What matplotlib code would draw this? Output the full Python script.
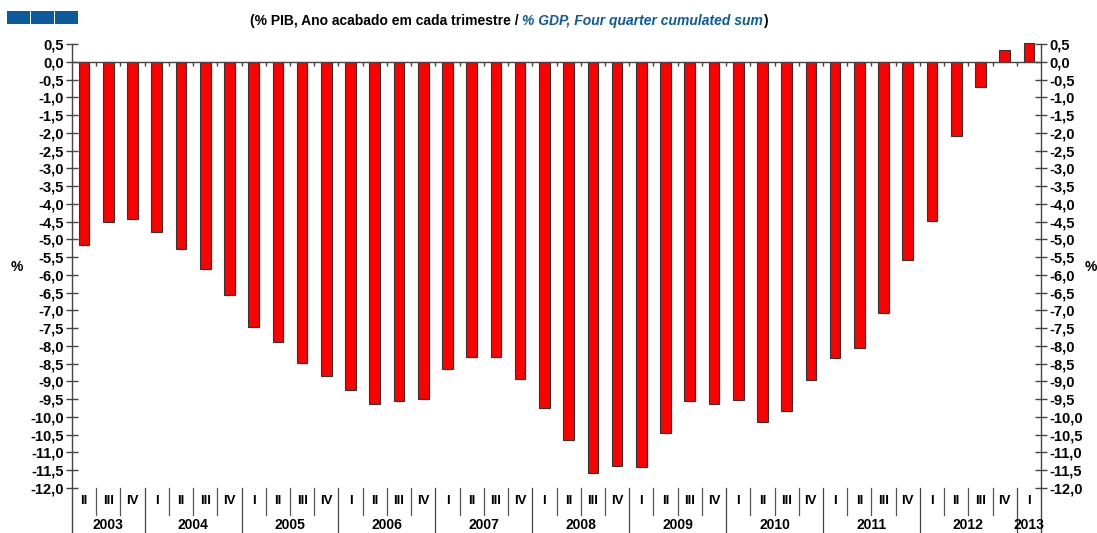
import matplotlib
matplotlib.use("Agg")
import matplotlib.pyplot as plt
from matplotlib.patches import Rectangle
from matplotlib.ticker import FixedLocator, FuncFormatter

plt.rcParams['font.family'] = ['Liberation Sans', 'DejaVu Sans']

# ---- data ----
years = ["2003", "2004", "2005", "2006", "2007", "2008", "2009", "2010", "2011", "2012", "2013"]
quarters_per_year = [["II", "III", "IV"]] + [["I", "II", "III", "IV"]] * 9 + [["I"]]
values = [-5.15, -4.52, -4.42,
          -4.80, -5.27, -5.83, -6.57,
          -7.47, -7.89, -8.48, -8.84,
          -9.23, -9.63, -9.55, -9.49,
          -8.65, -8.31, -8.31, -8.94,
          -9.74, -10.64, -11.59, -11.37,
          -11.40, -10.44, -9.55, -9.63,
          -9.53, -10.14, -9.83, -8.96,
          -8.35, -8.06, -7.07, -5.58,
          -4.48, -2.10, -0.72, 0.33,
          0.52]
y_ticks = [0.5 - 0.5 * i for i in range(26)]

title_pt = "(% PIB, Ano acabado em cada trimestre / "
title_en = "% GDP, Four quarter cumulated sum"

BLUE = "#0a5a9c"

fig = plt.figure(figsize=(10.97, 5.33), dpi=100)
ax = fig.add_axes([72 / 1097, 1 - 488 / 533, (1041 - 72) / 1097, (488 - 44) / 533])

n = len(values)
xs = list(range(n))
ax.bar(xs, values, width=0.44, color="#ff0000", edgecolor="#333333", linewidth=0.8,
       clip_on=False, zorder=3)

ax.set_xlim(-0.5, n - 0.5)
ax.set_ylim(-12, 0.5)

# spines: only left / right, extended down through the label area
for s in ["top", "bottom", "left", "right"]:
    ax.spines[s].set_visible(False)
for xa in (0, 1):
    ax.plot([xa, xa], [-0.105, 1], transform=ax.transAxes, color="#444444", lw=1.0, clip_on=False)

# zero line with little ticks between bars
ax.axhline(0, color="#444444", lw=1.0, zorder=4)
ax.vlines([i + 0.5 for i in range(n - 1)], -0.12, 0, color="#444444", lw=1.0, zorder=4)

# y axis both sides
ax.yaxis.set_major_locator(FixedLocator(y_ticks))
ax.yaxis.set_major_formatter(FuncFormatter(lambda v, p: f"{v:.1f}".replace(".", ",")))
ax.tick_params(axis="y", which="major", left=True, right=True, labelleft=True, labelright=True,
               direction="inout", length=8, width=1.0, color="#444444",
               labelsize=10.5, pad=2)
for lab in ax.get_yticklabels():
    lab.set_fontweight("bold")
ax.set_xticks([])

# category labels below
xt = ax.get_xaxis_transform()
pos = 0
for yr, qs in zip(years, quarters_per_year):
    start = pos
    for j, q in enumerate(qs):
        ax.text(pos, -0.029, q, transform=xt, ha="center", va="center",
                fontsize=9.5, fontweight="bold")
        if j > 0:
            ax.plot([pos - 0.5, pos - 0.5], [0, -0.061], transform=xt,
                    color="#555555", lw=0.9, clip_on=False)
        pos += 1
    if start > 0:
        ax.plot([start - 0.5, start - 0.5], [0, -0.105], transform=xt,
                color="#444444", lw=0.9, clip_on=False)
    ax.text((start + pos - 1) / 2, -0.084, yr, transform=xt,
            ha="center", va="center", fontsize=10, fontweight="bold")

# % labels
fig.text(17 / 1097, 1 - 267 / 533, "%", ha="center", va="center", fontsize=10, fontweight="bold")
fig.text(1091 / 1097, 1 - 267 / 533, "%", ha="center", va="center", fontsize=10, fontweight="bold")

# title
t1 = fig.text(250 / 1097, 1 - 21 / 533, title_pt, ha="left", va="center", fontsize=10,
              fontweight="bold")
t2 = ax.annotate(title_en, xy=(1, 0), xycoords=t1, ha="left", va="bottom", fontsize=10,
                 fontweight="bold", style="italic", color=BLUE)
ax.annotate(")", xy=(1, 0), xycoords=t2, ha="left", va="bottom", fontsize=10, fontweight="bold")

# blue squares top-left
for x0 in (7, 31, 55):
    fig.patches.append(Rectangle((x0 / 1097, 1 - 24 / 533), 23 / 1097, 13 / 533,
                                 transform=fig.transFigure, facecolor=BLUE, edgecolor="none"))

fig.savefig("out.png", dpi=100)
